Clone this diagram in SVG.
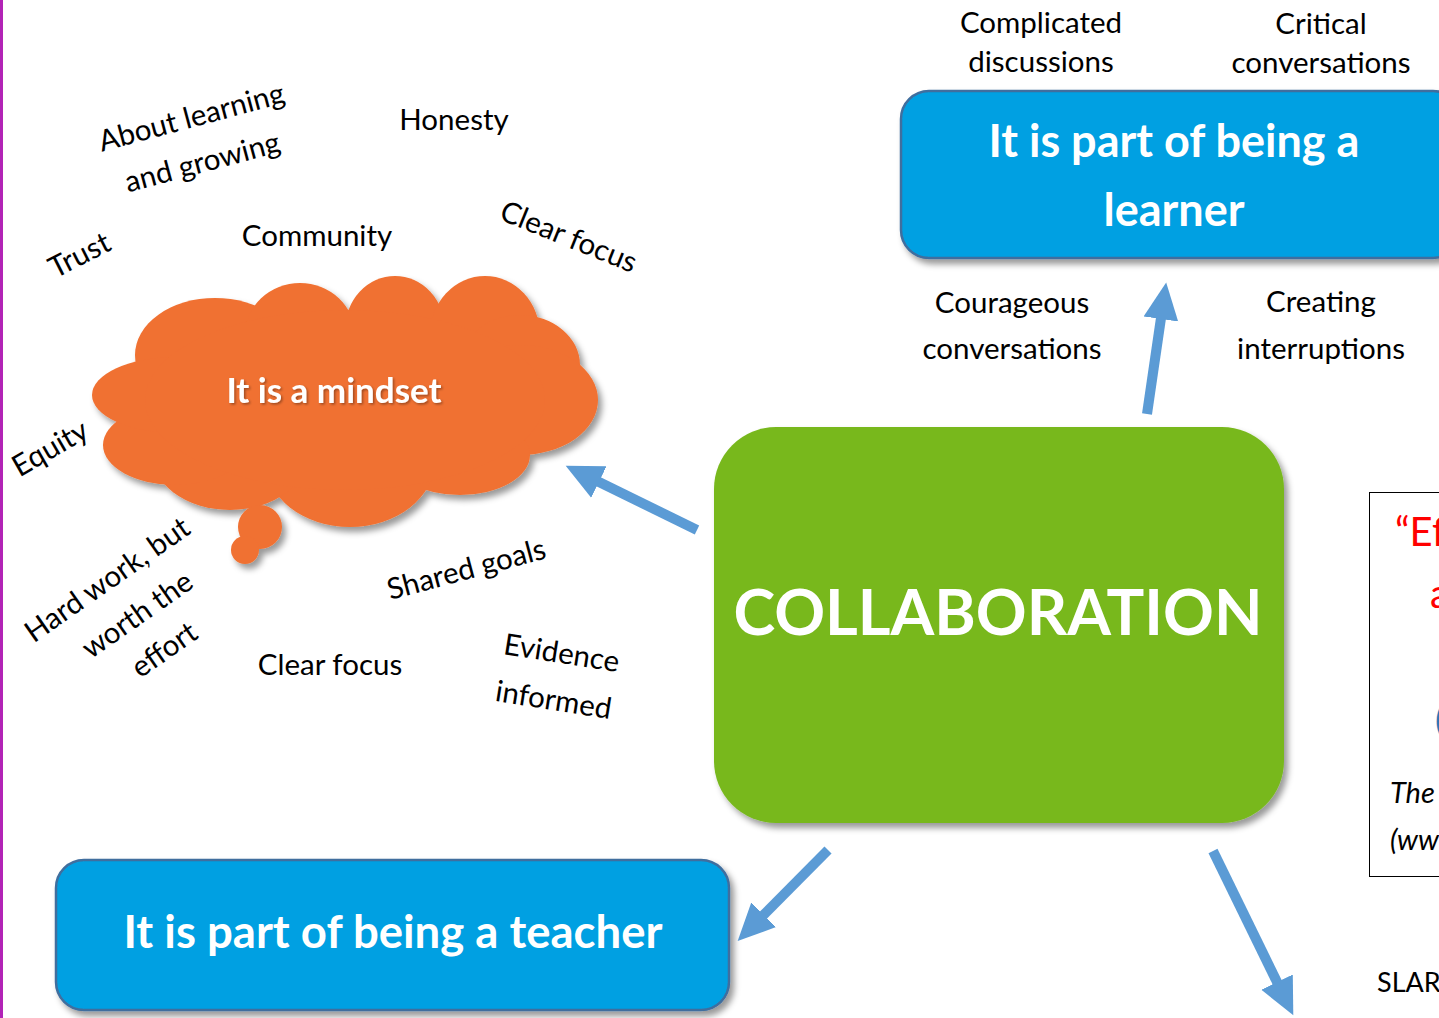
<svg xmlns="http://www.w3.org/2000/svg" width="1439" height="1018" viewBox="0 0 1439 1018">
<style>
.w{font-family:Lato,"Liberation Sans",sans-serif;font-size:29.5px;fill:#000;text-anchor:middle}
.hb{font-family:Lato,"Liberation Sans",sans-serif;font-weight:bold;fill:#fff;text-anchor:middle}
.blue{fill:#03A0E2;stroke:#3F6E9E;stroke-width:2.5}
.arr{stroke:#5B9BD5;stroke-width:10;fill:none;marker-end:url(#ah)}
.orange{fill:#F07131}
</style>
<defs>
<filter id="sh" x="-10%" y="-10%" width="125%" height="130%">
<feDropShadow dx="4" dy="5" stdDeviation="3" flood-color="#000" flood-opacity="0.4"/>
</filter>
<filter id="tsh" x="-10%" y="-20%" width="120%" height="150%">
<feDropShadow dx="1.5" dy="1.5" stdDeviation="0.8" flood-color="#000" flood-opacity="0.35"/>
</filter>
<marker id="ah" markerUnits="userSpaceOnUse" markerWidth="40" markerHeight="40" viewBox="0 -20 40 40" refX="1" refY="0" orient="auto">
<path d="M0,-17.5 L37,0 L0,17.5 Z" fill="#5B9BD5"/>
</marker>
</defs>
<rect x="0" y="0" width="1439" height="1018" fill="#fff"/>
<rect x="0" y="0" width="3" height="1018" fill="#B223B6"/>

<g id="cloud" filter="url(#sh)" class="orange">
<ellipse cx="215" cy="355" rx="80" ry="57"/>
<ellipse cx="300" cy="335" rx="55" ry="52"/>
<ellipse cx="395" cy="330" rx="50" ry="54"/>
<ellipse cx="485" cy="335" rx="55" ry="59"/>
<ellipse cx="520" cy="365" rx="60" ry="50"/>
<ellipse cx="520" cy="400" rx="78" ry="55"/>
<ellipse cx="460" cy="455" rx="70" ry="40"/>
<ellipse cx="350" cy="460" rx="85" ry="67"/>
<ellipse cx="230" cy="450" rx="80" ry="60"/>
<ellipse cx="175" cy="445" rx="72" ry="40"/>
<ellipse cx="175" cy="395" rx="83" ry="38"/>
<ellipse cx="345" cy="400" rx="200" ry="90"/>
<circle cx="260" cy="527" r="22"/>
<circle cx="245" cy="550" r="14"/>
</g>
<text class="hb" x="334" y="403" font-size="35" filter="url(#tsh)">It is a mindset</text>

<g id="collaboration">
<rect x="714" y="427" width="570" height="396" rx="62" fill="#78B81F" filter="url(#sh)"/>
<text class="hb" x="998" y="635" font-size="63">COLLABORATION</text>
</g>

<g id="learner">
<rect class="blue" x="901" y="91" width="560" height="167" rx="28" filter="url(#sh)"/>
<text class="hb" x="1174" y="157" font-size="45">It is part of being a</text>
<text class="hb" x="1174" y="226" font-size="45">learner</text>
</g>

<g id="teacher">
<rect class="blue" x="56" y="860" width="673" height="150" rx="28" filter="url(#sh)"/>
<text class="hb" x="393" y="948" font-size="45.5">It is part of being a teacher</text>
</g>

<g id="quote">
<rect x="1369.5" y="492.5" width="100" height="384" fill="#fff" stroke="#000" stroke-width="1"/>
<text x="1395" y="546" font-family="Lato,'Liberation Sans',sans-serif" font-size="40" fill="#FF0000">“Ef</text>
<text x="1430" y="608" font-family="Lato,'Liberation Sans',sans-serif" font-size="40" fill="#FF0000">a</text>
<text x="1435" y="733" font-family="Lato,'Liberation Sans',sans-serif" font-size="36" fill="#2E75B6">(</text>
<text x="1390" y="803" font-family="Lato,'Liberation Sans',sans-serif" font-size="29" font-style="italic">The</text>
<text x="1390" y="850" font-family="Lato,'Liberation Sans',sans-serif" font-size="29" font-style="italic">(ww</text>
</g>

<g id="slar"><text x="1377" y="992" font-family="Lato,'Liberation Sans',sans-serif" font-size="27">SLAR</text></g>

<g id="connectors">
<line class="arr" x1="697" y1="530" x2="598" y2="481.5"/>
<line class="arr" x1="1147" y1="414" x2="1161" y2="318"/>
<line class="arr" x1="828" y1="850" x2="763" y2="915.5"/>
<line class="arr" x1="1213" y1="851" x2="1277.5" y2="983"/>
</g>

<g id="words">
<text class="w" x="1041" y="33">Complicated</text>
<text class="w" x="1041" y="72">discussions</text>
<text class="w" x="1321" y="34">Critical</text>
<text class="w" x="1321" y="73">conversations</text>
<text class="w" x="1012" y="313">Courageous</text>
<text class="w" x="1012" y="359">conversations</text>
<text class="w" x="1321" y="312">Creating</text>
<text class="w" x="1321" y="359">interruptions</text>
<text class="w" x="454" y="130">Honesty</text>
<text class="w" x="317" y="246">Community</text>
<text class="w" x="330" y="675">Clear focus</text>
<text class="w" transform="translate(194,127) rotate(-15)">About learning</text>
<text class="w" transform="translate(205,172) rotate(-15)">and growing</text>
<text class="w" transform="translate(84,264) rotate(-27)">Trust</text>
<text class="w" transform="translate(565,246) rotate(22)">Clear focus</text>
<text class="w" transform="translate(55,457) rotate(-30)">Equity</text>
<text class="w" transform="translate(113,588) rotate(-35)">Hard work, but</text>
<text class="w" transform="translate(143,623) rotate(-35)">worth the</text>
<text class="w" transform="translate(170,658) rotate(-35)">effort</text>
<text class="w" transform="translate(469,579) rotate(-15)">Shared goals</text>
<text class="w" transform="translate(560,663) rotate(9)">Evidence</text>
<text class="w" transform="translate(552,710) rotate(9)">informed</text>
</g>
</svg>
